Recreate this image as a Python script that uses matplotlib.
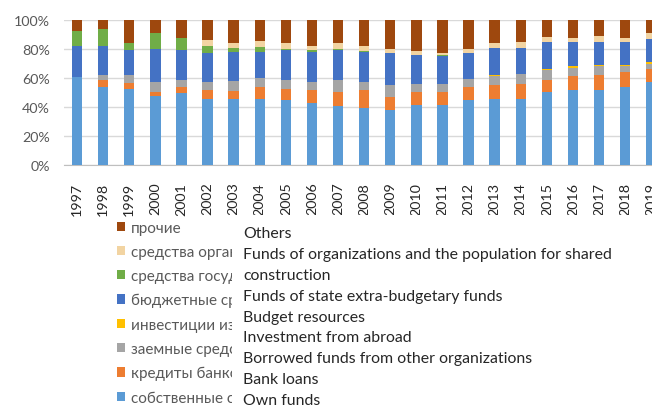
import matplotlib
matplotlib.use("Agg")
import matplotlib.pyplot as plt
import numpy as np
from matplotlib.patches import Rectangle
from matplotlib.ticker import PercentFormatter

years = [str(y) for y in range(1997, 2020)]

own_funds  = [61.0, 53.5, 52.5, 47.5, 49.5, 45.6, 45.6, 45.6, 44.7, 42.6, 40.6, 39.6, 37.6, 41.7, 41.7, 44.7, 45.6, 45.6, 50.2, 51.4, 51.4, 53.5, 57.4]
bank_loans = [0.0, 5.0, 4.0, 3.0, 4.6, 6.0, 5.6, 7.9, 7.8, 9.0, 9.6, 11.8, 9.6, 8.5, 8.5, 8.8, 9.7, 10.6, 8.1, 9.9, 10.8, 10.6, 8.7]
borrowed   = [0.0, 3.7, 5.9, 6.6, 4.2, 5.8, 6.9, 6.6, 6.0, 5.8, 8.1, 6.0, 8.1, 6.0, 6.0, 5.7, 6.0, 6.9, 6.9, 5.8, 6.0, 4.1, 3.9]
abroad     = [0.0, 0.0, 0.0, 0.0, 0.0, 0.0, 0.0, 0.0, 0.0, 0.0, 0.0, 0.0, 0.0, 0.0, 0.0, 0.0, 0.9, 0.0, 0.9, 0.9, 0.9, 0.9, 1.2]
budget     = [20.8, 19.6, 16.6, 22.9, 20.7, 19.8, 19.8, 17.8, 20.8, 20.7, 21.0, 20.7, 21.7, 19.8, 19.1, 17.8, 18.7, 17.8, 18.9, 17.0, 15.9, 15.9, 15.7]
extra_budg = [10.8, 12.0, 5.1, 10.8, 8.8, 4.8, 3.0, 3.2, 0.9, 0.9, 0.9, 0.7, 0.0, 0.0, 0.7, 0.0, 0.0, 0.0, 0.0, 0.0, 0.0, 0.0, 0.0]
shared     = [0.0, 0.0, 0.0, 0.0, 0.0, 3.9, 3.2, 4.2, 3.7, 3.3, 3.9, 3.2, 3.0, 2.3, 1.2, 3.0, 3.2, 4.1, 3.0, 2.8, 3.9, 2.8, 4.1]
others     = [7.4, 6.2, 15.9, 9.2, 12.2, 14.1, 15.9, 14.7, 16.1, 17.7, 15.9, 18.0, 20.0, 21.7, 22.8, 20.0, 15.9, 15.0, 12.0, 12.2, 11.1, 12.2, 9.0]

ru_labels = ["собственные средства", "кредиты банков", "заемные средства других организаций",
             "инвестиции из-за рубежа", "бюджетные средства",
             "средства государственных внебюджетных фондов",
             "средства организаций и населения на долевое строительство", "прочие"]
en_labels = ["Others", "Funds of organizations and the population for shared\nconstruction",
             "Funds of state extra-budgetary funds", "Budget resources", "Investment from abroad",
             "Borrowed funds from other organizations", "Bank loans", "Own funds"]

series = [own_funds, bank_loans, borrowed, abroad, budget, extra_budg, shared, others]
colors = ["#5B9BD5", "#ED7D31", "#A5A5A5", "#FFC000", "#4472C4", "#70AD47", "#F2D4A2", "#9E480E"]

plt.rcParams['font.family'] = ['Lato', 'Noto Sans', 'DejaVu Sans']

W, H = 652, 406
fig = plt.figure(figsize=(W / 100, H / 100), dpi=100)
ax = fig.add_axes([64 / W, 1 - 166 / H, 1 - 64 / W, (166 - 21) / H])

data = np.array(series, dtype=float)
data = data / data.sum(axis=0) * 100
x = np.arange(len(years))
bottom = np.zeros(len(years))
handles = []
for vals, col, lab in zip(data, colors, ru_labels):
    b = ax.bar(x, vals, 0.4, bottom=bottom, color=col, label=lab, zorder=3)
    handles.append(b)
    bottom += vals

ax.set_ylim(0, 100)
ax.set_xlim(-0.5, 22.03)
ax.set_yticks(np.arange(0, 101, 20))
ax.yaxis.set_major_formatter(PercentFormatter(decimals=0))
ax.set_xticks(x)
ax.set_xticklabels(years, rotation=90)
ax.grid(axis='y', color='#D9D9D9', linewidth=1, zorder=0)
for s in ['top', 'right', 'left']:
    ax.spines[s].set_visible(False)
ax.spines['bottom'].set_color('#BFBFBF')
ax.tick_params(axis='both', length=0, colors='#595959', labelsize=10.3)
ax.tick_params(axis='x', pad=12, labelcolor='#262626')
ax.tick_params(axis='y', pad=10)

leg = fig.legend(handles[::-1], ru_labels[::-1], loc='upper left',
                 bbox_to_anchor=(109 / W, 1 - 214 / H), frameon=False,
                 fontsize=11, handlelength=0.55, handleheight=0.55, handletextpad=0.4,
                 labelspacing=0.66, borderpad=0)
for t in leg.get_texts():
    t.set_color('#595959')

fig.add_artist(Rectangle((232 / W, 0), 1 - 232 / W, (H - 216) / H,
                         transform=fig.transFigure, facecolor='white', edgecolor='none', zorder=10))
y0 = 234
step = 20.9
line = 0
for lab in en_labels:
    for part in lab.split("\n"):
        fig.text(243 / W, 1 - (y0 + line * step) / H, part, fontsize=11.4, color='#262626',
                 va='center', ha='left', zorder=11)
        line += 1

fig.savefig("out.png", dpi=100)
